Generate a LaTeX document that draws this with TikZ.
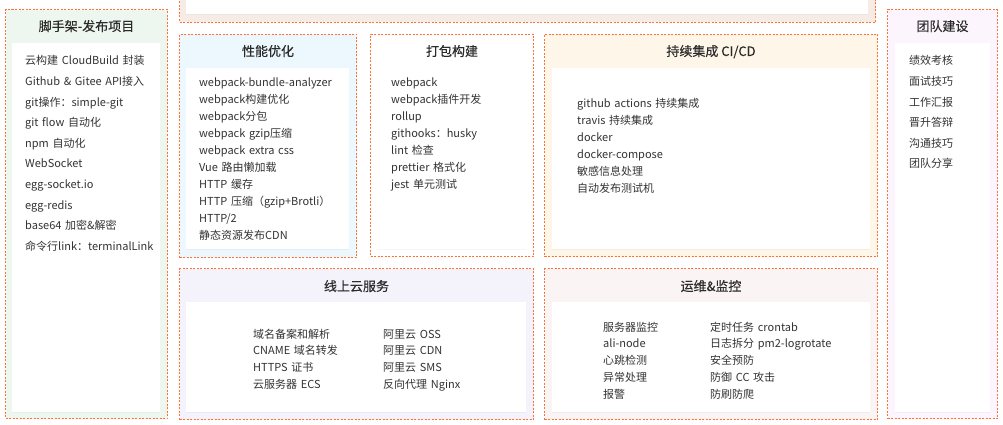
\documentclass[tikz,border=0pt]{standalone}
\usepackage{fontspec}
\setmainfont{Noto Sans CJK SC}
\newfontfamily\headfont{Noto Sans CJK SC}[FakeBold=0.4]
\usepackage{xcolor}
\usepackage{tikz}
\usetikzlibrary{shadows}
\usetikzlibrary{positioning}

\definecolor{edge}{RGB}{255,112,52}
\definecolor{ink}{RGB}{51,51,51}
\definecolor{scafbg}{RGB}{238,247,239}
\definecolor{topbg}{RGB}{247,235,230}
\definecolor{perfbg}{RGB}{236,248,253}
\definecolor{cibg}{RGB}{254,246,232}
\definecolor{teambg}{RGB}{253,245,253}
\definecolor{cloudbg}{RGB}{244,243,252}
\definecolor{opsbg}{RGB}{251,244,244}

\begin{document}
\begin{tikzpicture}[
  x=1pt, y=-1pt,
  panel/.style={draw=edge, line width=1pt, dash pattern=on 2pt off 1.5pt,
    anchor=north west, inner sep=0pt},
  inbox/.style={fill=white, anchor=north west, inner sep=0pt,
    drop shadow={opacity=0.07, shadow xshift=0pt, shadow yshift=-1pt}},
  title/.style={anchor=base, inner sep=0pt, text=ink!85!black,
    font=\headfont\fontsize{13}{15}\selectfont},
  wide/.style={anchor=base west, inner sep=0pt, text=ink, align=left,
    text width=200pt, font=\fontsize{11}{20.6}\selectfont},
  tight/.style={anchor=base west, inner sep=0pt, text=ink, align=left,
    text width=200pt, font=\fontsize{11}{16.9}\selectfont}
]
\useasboundingbox (0,0) rectangle (1003,425);

% outer panels
\node[panel, fill=scafbg, minimum width=162, minimum height=408.5] (scaf) at (5,9.5) {};
\node[panel, fill=topbg, minimum width=696, minimum height=32] (top) at (179,-10) {};
\node[panel, fill=perfbg, minimum width=177, minimum height=223] (perf) at (179,34) {};
\node[panel, fill=white, minimum width=163, minimum height=222] (pack) at (370,34) {};
\node[panel, fill=cibg, minimum width=333, minimum height=222] (ci) at (544,34) {};
\node[panel, fill=teambg, minimum width=110, minimum height=408.5] (team) at (887,9.5) {};
\node[panel, fill=cloudbg, minimum width=354, minimum height=151] (cloud) at (179,268) {};
\node[panel, fill=opsbg, minimum width=333, minimum height=151] (ops) at (544,268) {};

% white cards
\node[inbox, minimum width=148, minimum height=369] (scaf-in) at (12,43) {};
\node[inbox, minimum width=682, minimum height=24] (top-in) at (186,-10) {};
\node[inbox, minimum width=163, minimum height=181] (perf-in) at (186,68) {};
\node[inbox, minimum width=149, minimum height=181] (pack-in) at (377,68) {};
\node[inbox, minimum width=318, minimum height=181] (ci-in) at (552,68) {};
\node[inbox, minimum width=95, minimum height=369] (team-in) at (895,43) {};
\node[inbox, minimum width=340, minimum height=110] (cloud-in) at (186,302) {};
\node[inbox, minimum width=318, minimum height=110] (ops-in) at (552,302) {};

% titles
\node[title] (scaf-title) at ([yshift=-21.5pt]scaf.north) {脚手架-发布项目};
\node[title] (perf-title) at ([yshift=-22pt]perf.north) {性能优化};
\node[title] (pack-title) at ([yshift=-22pt]pack.north) {打包构建};
\node[title] (ci-title) at ([yshift=-22pt]ci.north) {持续集成 CI/CD};
\node[title] (team-title) at ([yshift=-21.5pt]team.north) {团队建设};
\node[title] (cloud-title) at ([yshift=-23pt]cloud.north) {线上云服务};
\node[title] (ops-title) at ([yshift=-23pt]ops.north) {运维\&监控};

% lists
\node[wide] (scaf-list) at (25,65) {云构建 CloudBuild 封装\\
  Github \& Gitee API接入\\
  git操作：simple-git\\
  git flow 自动化\\
  npm 自动化\\
  WebSocket\\
  egg-socket.io\\
  egg-redis\\
  base64 加密\&解密\\
  命令行link：terminalLink};
\node[tight] (perf-list) at (199,87) {webpack-bundle-analyzer\\
  webpack构建优化\\
  webpack分包\\
  webpack gzip压缩\\
  webpack extra css\\
  Vue 路由懒加载\\
  HTTP 缓存\\
  HTTP 压缩（gzip+Brotli）\\
  HTTP/2\\
  静态资源发布CDN};
\node[tight] (pack-list) at (391,87) {webpack\\
  webpack插件开发\\
  rollup\\
  githooks：husky\\
  lint 检查\\
  prettier 格式化\\
  jest 单元测试};
\node[tight] (ci-list) at (577,108) {github actions 持续集成\\
  travis 持续集成\\
  docker\\
  docker-compose\\
  敏感信息处理\\
  自动发布测试机};
\node[wide] (team-list) at (909,65) {绩效考核\\
  面试技巧\\
  工作汇报\\
  晋升答辩\\
  沟通技巧\\
  团队分享};
\node[tight] (cloud-a) at (253,338) {域名备案和解析\\
  CNAME 域名转发\\
  HTTPS 证书\\
  云服务器 ECS};
\node[tight] (cloud-b) at (383,338) {阿里云 OSS\\
  阿里云 CDN\\
  阿里云 SMS\\
  反向代理 Nginx};
\node[tight] (ops-a) at (603,331) {服务器监控\\
  ali-node\\
  心跳检测\\
  异常处理\\
  报警};
\node[tight] (ops-b) at (710,331) {定时任务 crontab\\
  日志拆分 pm2-logrotate\\
  安全预防\\
  防御 CC 攻击\\
  防刷防爬};
\end{tikzpicture}
\end{document}
